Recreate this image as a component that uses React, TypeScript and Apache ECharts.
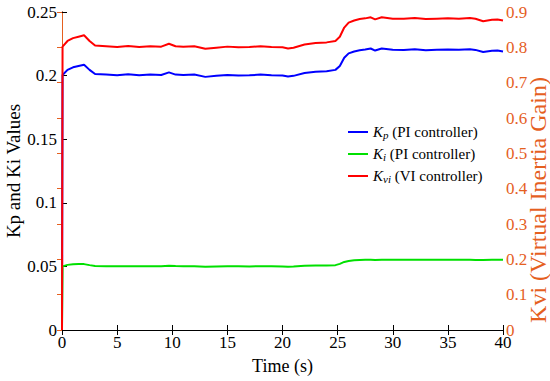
import React, { useEffect, useRef } from "react";
import * as echarts from "echarts";

const time = [0, 0.05, 0.5, 1, 1.5, 2, 2.5, 3, 4, 5, 6, 7, 8, 9, 9.7, 10.3, 11, 12, 13, 14, 15, 16, 17, 18, 19, 20, 20.5, 21, 22, 23, 24, 24.8, 25.2, 25.6, 26, 26.5, 27, 27.5, 28, 28.4, 29, 30, 31, 32, 33, 34, 35, 36, 37, 37.5, 38.2, 39, 39.5, 40];
const kp = [0, 0.2005, 0.2045, 0.2065, 0.2075, 0.2085, 0.2045, 0.2012, 0.2008, 0.2002, 0.201, 0.2003, 0.2008, 0.2005, 0.2025, 0.2008, 0.2005, 0.2008, 0.199, 0.1998, 0.2005, 0.2, 0.2002, 0.2008, 0.2003, 0.2, 0.1993, 0.1998, 0.202, 0.203, 0.2035, 0.2045, 0.2075, 0.214, 0.2175, 0.219, 0.22, 0.2205, 0.2213, 0.2197, 0.2213, 0.2203, 0.2202, 0.2208, 0.22, 0.2203, 0.2205, 0.2203, 0.2207, 0.2202, 0.2185, 0.2195, 0.2198, 0.219];
const ki = [0, 0.05, 0.0512, 0.0516, 0.0518, 0.0518, 0.051, 0.0503, 0.0502, 0.0502, 0.0501, 0.0502, 0.0502, 0.0502, 0.0505, 0.0503, 0.0502, 0.0502, 0.0498, 0.05, 0.0501, 0.0501, 0.05, 0.0501, 0.0501, 0.05, 0.0498, 0.05, 0.0505, 0.0507, 0.0508, 0.051, 0.052, 0.0535, 0.0543, 0.0548, 0.0551, 0.0552, 0.0553, 0.0551, 0.0553, 0.0552, 0.0552, 0.0553, 0.0552, 0.0552, 0.0552, 0.0552, 0.0553, 0.0551, 0.055, 0.0552, 0.0553, 0.0553];
const kvi = [0, 0.802, 0.818, 0.826, 0.83, 0.834, 0.818, 0.805, 0.803, 0.801, 0.804, 0.801, 0.803, 0.802, 0.81, 0.803, 0.802, 0.803, 0.796, 0.799, 0.802, 0.8, 0.801, 0.803, 0.801, 0.8, 0.797, 0.799, 0.808, 0.812, 0.814, 0.818, 0.83, 0.856, 0.87, 0.876, 0.88, 0.882, 0.885, 0.879, 0.885, 0.881, 0.881, 0.883, 0.88, 0.881, 0.882, 0.881, 0.883, 0.881, 0.874, 0.878, 0.879, 0.876];

const FONT = "Liberation Serif, Times New Roman, serif";
const ORANGE = "#E5601F";
const LEFT_NAME = "Kp and Ki Values";
const RIGHT_NAME = "Kvi (Virtual Inertia Gain)";

export default function App() {
  const ref = useRef<HTMLDivElement>(null);
  useEffect(() => {
    document.body.style.margin = "0";
    if (!ref.current) return;
    const chart = echarts.init(ref.current, null, { renderer: "svg" });
    const mk = (arr: number[]) => time.map((t, i) => [t, arr[i]]);
    const xBase = {
      type: "value" as const,
      min: 0,
      max: 40,
      interval: 5,
      splitLine: { show: false },
      axisLine: { show: true, lineStyle: { color: "#000", width: 1 } },
      axisTick: { show: true, inside: true, length: 5, lineStyle: { color: "#000" } },
    };
    chart.setOption({
      animation: false,
      textStyle: { fontFamily: FONT },
      grid: { left: 62, right: 47, top: 12, bottom: 51, containLabel: false, outerBoundsMode: "none" },
      graphic: [
        {
          type: "text",
          x: 13,
          y: 171,
          rotation: Math.PI / 2,
          style: {
            text: LEFT_NAME,
            fontFamily: FONT,
            fontSize: 19,
            fill: "#000",
            align: "center",
            verticalAlign: "middle",
          },
        },
        {
          type: "text",
          x: 538,
          y: 200,
          rotation: Math.PI / 2,
          style: {
            text: RIGHT_NAME,
            fontFamily: FONT,
            fontSize: 24,
            fill: ORANGE,
            align: "center",
            verticalAlign: "middle",
          },
        },
      ],
      legend: {
        orient: "vertical",
        left: 343,
        top: 118,
        itemGap: 5,
        itemWidth: 20,
        itemHeight: 2,
        icon: "rect",
        data: ["Kp", "Ki", "Kvi"],
        formatter: (name: string) => {
          if (name === "Kp") return "{i|K}{s|p}{t| (PI controller)}";
          if (name === "Ki") return "{i|K}{s|i}{t| (PI controller)}";
          return "{i|K}{s|vi}{t| (VI controller)}";
        },
        textStyle: {
          fontFamily: FONT,
          fontSize: 15,
          color: "#000",
          rich: {
            i: { fontFamily: FONT, fontSize: 15, fontStyle: "italic", color: "#000", lineHeight: 16, verticalAlign: "middle" },
            s: { fontFamily: FONT, fontSize: 11, fontStyle: "italic", color: "#000", lineHeight: 16, verticalAlign: "bottom", padding: [6, 0, 0, 0] },
            t: { fontFamily: FONT, fontSize: 15, color: "#000", lineHeight: 16, verticalAlign: "middle" },
          },
        },
      },
      xAxis: [
        {
          ...xBase,
          position: "bottom",
          name: "Time (s)",
          nameLocation: "middle",
          nameGap: 27,
          nameTextStyle: { fontFamily: FONT, fontSize: 18, color: "#000" },
          axisLabel: { fontFamily: FONT, fontSize: 17, color: "#000", margin: 4 },
        },
        {
          ...xBase,
          position: "top",
          axisLabel: { show: false },
        },
      ],
      yAxis: [
        {
          type: "value",
          position: "left",
          min: 0,
          max: 0.25,
          interval: 0.05,
          splitLine: { show: false },
          axisLine: { show: true, lineStyle: { color: "#000" } },
          axisTick: { show: true, inside: true, length: 5, lineStyle: { color: "#000" } },
          axisLabel: { fontFamily: FONT, fontSize: 17, color: "#000", margin: 5 },
        },
        {
          type: "value",
          position: "right",
          min: 0,
          max: 0.9,
          interval: 0.1,
          splitLine: { show: false },
          axisLine: { show: true, lineStyle: { color: ORANGE } },
          axisTick: { show: true, inside: true, length: 5, lineStyle: { color: ORANGE } },
          axisLabel: { fontFamily: FONT, fontSize: 17, color: ORANGE, margin: 3 },
        },
      ],
      series: [
        {
          name: "Kp",
          type: "line",
          xAxisIndex: 0,
          yAxisIndex: 0,
          data: mk(kp),
          showSymbol: false,
          symbol: "none",
          lineStyle: { color: "#0000FF", width: 2 },
          itemStyle: { color: "#0000FF" },
        },
        {
          name: "Ki",
          type: "line",
          xAxisIndex: 0,
          yAxisIndex: 0,
          data: mk(ki),
          showSymbol: false,
          symbol: "none",
          lineStyle: { color: "#00E000", width: 2 },
          itemStyle: { color: "#00E000" },
        },
        {
          name: "Kvi",
          type: "line",
          xAxisIndex: 0,
          yAxisIndex: 1,
          data: mk(kvi),
          showSymbol: false,
          symbol: "none",
          lineStyle: { color: "#FF0000", width: 2 },
          itemStyle: { color: "#FF0000" },
        },
      ],
    });
    return () => chart.dispose();
  }, []);
  return <div ref={ref} style={{ width: 550, height: 381 }} />;
}
